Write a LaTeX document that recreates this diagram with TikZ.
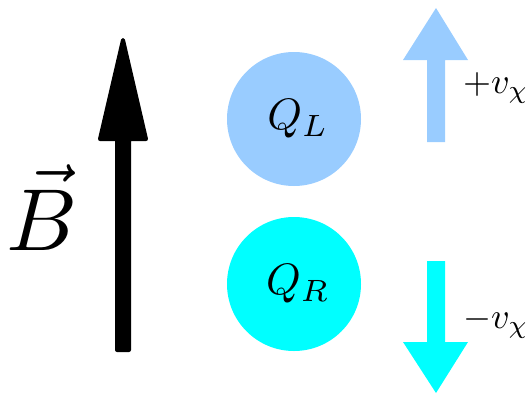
\documentclass[tikz,border=0pt]{standalone}
\usepackage{amsmath}
\usepackage{graphicx}
\usepackage{tikz}
\definecolor{leftblue}{RGB}{153,204,255}
\definecolor{rightcyan}{RGB}{0,255,255}

\begin{document}
\begin{tikzpicture}[x=1pt,y=-1pt,
    charge/.style={circle,minimum size=134pt,inner sep=0pt},
    velo/.style={anchor=base west,inner sep=0pt}]
    \useasboundingbox (0,0) rectangle (532,394);

    % magnetic field
    \filldraw[line width=4pt,line join=round]
        (117,139) -- (100,139) -- (123,40) -- (146,139) -- (129,139) -- (129,350) -- (117,350) -- cycle;
    \node[anchor=base west,inner sep=0pt] (field) at (6,250) {\scalebox{8.8}{$\vec{B}$}};

    % the two charges
    \node[charge,fill=leftblue] (ql) at (294,119) {\hspace{8pt}\scalebox{4.4}{$Q_L$}};
    \node[charge,fill=rightcyan] (qr) at (294,284) {\hspace{8pt}\scalebox{4.4}{$Q_R$}};

    % velocities
    \fill[leftblue] (427,142) -- (427,60) -- (403,60) -- (436,8) -- (468,60) -- (445,60) -- (445,142) -- cycle;
    \fill[rightcyan] (427,261) -- (427,342) -- (403,342) -- (436,393) -- (468,342) -- (445,342) -- (445,261) -- cycle;
    \node[velo] (vup) at (463,93) {\scalebox{3.6}{$+v_\chi$}};
    \node[velo] (vdown) at (463,328) {\scalebox{3.6}{$-v_\chi$}};
\end{tikzpicture}
\end{document}
